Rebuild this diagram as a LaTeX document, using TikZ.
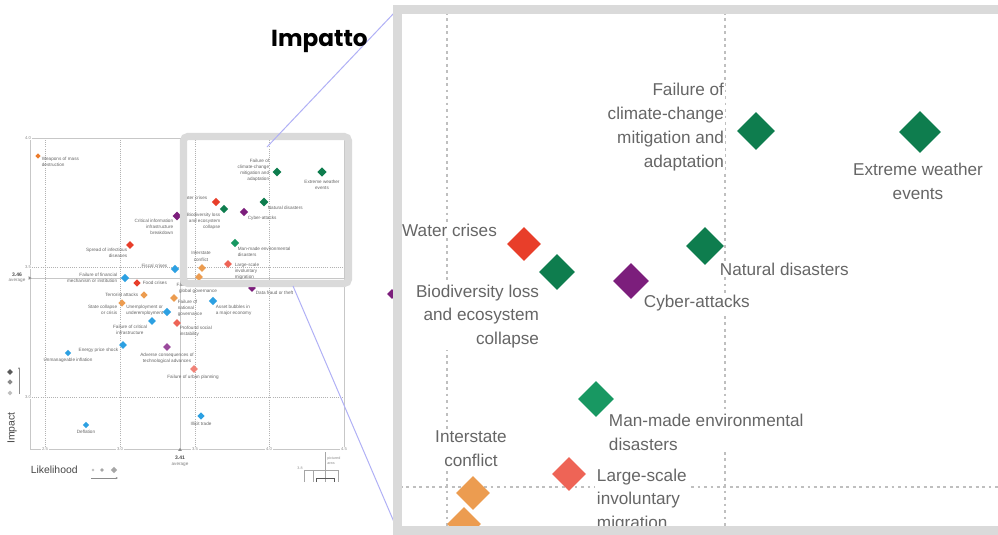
\documentclass[tikz,border=0pt]{standalone}
\usepackage{fontspec}
\setmainfont{Liberation Sans}
\newfontfamily\titlefont{Poppins}
\usetikzlibrary{shapes.geometric,arrows.meta}

\definecolor{rkgreen}{RGB}{14,125,78}
\definecolor{rkmint}{RGB}{24,152,98}
\definecolor{rkred}{RGB}{232,62,42}
\definecolor{rksalmon}{RGB}{238,100,86}
\definecolor{rkorange}{RGB}{236,156,80}
\definecolor{rkdeep}{RGB}{236,124,44}
\definecolor{rkblue}{RGB}{44,160,226}
\definecolor{rkpurple}{RGB}{124,30,124}
\definecolor{rklilac}{RGB}{154,74,156}
\definecolor{zoomline}{RGB}{176,176,246}
\definecolor{framegray}{RGB}{218,218,218}

\tikzset{
  rk/.style={diamond, inner sep=0pt, minimum size={#1*0.05cm}},
  small/.style={font=\fontsize{3.3}{4.4}\selectfont, text=black!60, inner sep=0.4pt},
  big/.style={font=\fontsize{12.2}{17}\selectfont, text=black!60, fill=white, inner sep=1.2pt},
  tick/.style={font=\fontsize{3}{3.6}\selectfont, text=black!45, fill=white, inner sep=0.6pt},
  axis/.style={draw=black!22, line width=0.4pt},
  grid/.style={draw=black!30, line width=0.4pt, dash pattern=on 0.6pt off 0.9pt},
  biggrid/.style={draw=black!25, line width=0.9pt, dash pattern=on 2pt off 2.6pt},
  legtip/.style={-{Stealth[length=1.6pt,width=1.4pt]}, draw=black!45, line width=0.3pt},
}

\begin{document}
\begin{tikzpicture}[x=0.025cm, y=-0.025cm]
  \useasboundingbox (0,0) rectangle (998,534);
  \fill[white] (0,0) rectangle (998,534);

  %%%%% small chart %%%%%
  \draw[grid] (45,138) -- (45,449);
  \draw[grid] (120,138) -- (120,449);
  \draw[grid] (195,138) -- (195,449);
  \draw[grid] (269,138) -- (269,449);
  \draw[grid] (30,267) -- (344,267);
  \draw[grid] (30,397) -- (344,397);
  \draw[axis] (180,138) -- (180,449);
  \draw[axis] (30,278) -- (344,278);
  \draw[axis] (30,138) rectangle (344,449);

  \node[tick] (y40) at (28,138) {4.0};
  \node[tick] (y35) at (28,267) {3.5};
  \node[tick] (y30) at (28,397) {3.0};
  \node[tick] (x25) at (45,449) {2.5};
  \node[tick] (x30) at (120,449) {3.0};
  \node[tick] (x35) at (195,449) {3.5};
  \node[tick] (x40) at (269,449) {4.0};
  \node[tick] (x45) at (344,449) {4.5};
  \fill[black!45] (28.5,276.2) -- (28.5,279.8) -- (31.5,278) -- cycle;
  \fill[black!45] (178.2,450.8) -- (181.8,450.8) -- (180,447.8) -- cycle;

  \node[font=\bfseries\fontsize{3.6}{4}\selectfont, text=black!70, inner sep=0pt] (avgI) at (17,275) {3.46};
  \node[font=\fontsize{3.3}{4}\selectfont, text=black!50, inner sep=0pt] (avgIt) at (17,281) {average};
  \node[font=\bfseries\fontsize{3.6}{4}\selectfont, text=black!70, inner sep=0pt] (avgL) at (180,458) {3.41};
  \node[font=\fontsize{3.3}{4}\selectfont, text=black!50, inner sep=0pt] (avgLt) at (180,465) {average};

  \node[rotate=90, font=\fontsize{7.4}{8}\selectfont, text=black!72, inner sep=0pt] (impact) at (12,428) {Impact};
  \node[anchor=west, font=\fontsize{7.4}{8}\selectfont, text=black!72, inner sep=0pt] (likely) at (30.5,470) {Likelihood};

  % size legends
  \node[rk=3, fill=black!65] (lgA) at (10,372) {};
  \node[rk=2.7, fill=black!45] (lgB) at (10,382) {};
  \node[rk=2.4, fill=black!25] (lgC) at (10,393) {};
  \draw[legtip] (19,394) -- (19,367);
  \node[rk=1.4, fill=black!25] (lgD) at (93,470) {};
  \node[rk=2.1, fill=black!35] (lgE) at (102,470) {};
  \node[rk=3.2, fill=black!35] (lgF) at (114,470) {};
  \draw[legtip] (91,478) -- (118,478);

  % pictured area
  \draw[black!35, line width=0.3pt] (304,482) -- (304,470) -- (338,470) -- (338,482);
  \draw[black!35, line width=0.3pt] (313,470) -- (313,482);
  \draw[black!35, line width=0.3pt] (325,452) -- (325,482);
  \draw[black!65, line width=0.3pt] (316,482) -- (316,478) -- (334,478) -- (334,482);
  \node[font=\fontsize{2.6}{3}\selectfont, text=black!45, inner sep=0pt] (pa38) at (300,468) {3.8};
  \node[anchor=west, align=left, font=\fontsize{2.6}{3.2}\selectfont, text=black!45, inner sep=0pt] (patx) at (327,460.5) {pictured\\area};

  % risks
  \node[rk=2.7, fill=rkdeep] (sWm) at (38,156) {};
  \node[small, anchor=west, align=left] (lWm) at (41,162) {Weapons of mass\\destruction};
  \node[rk=4.5, fill=rkpurple] (sCi) at (177,216) {};
  \node[small, anchor=east, align=right] (lCi) at (174,227) {Critical information\\infrastructure\\breakdown};
  \node[rk=4, fill=rkred] (sSp) at (130,245) {};
  \node[small, anchor=east, align=right] (lSp) at (128,252.5) {Spread of infectious\\diseases};
  \node[rk=4.3, fill=rkblue] (sFi) at (175,269) {};
  \node[small, anchor=east] (lFi) at (168,266) {Fiscal crises};
  \node[rk=4.5, fill=rkgreen] (sFc) at (277,172) {};
  \node[small, anchor=east, align=right] (lFc) at (270,170.5) {Failure of\\climate-change\\mitigation and\\adaptation};
  \node[rk=4.7, fill=rkgreen] (sEw) at (322,172) {};
  \node[small, align=center] (lEw) at (322,185) {Extreme weather\\events};
  \node[rk=4.2, fill=rkred] (sWc) at (216,202) {};
  \node[small, anchor=east] (lWc) at (208,198) {Water crises};
  \node[rk=4.3, fill=rkgreen] (sBd) at (224,209) {};
  \node[small, anchor=east, align=right] (lBd) at (221,221) {Biodiversity loss\\and ecosystem\\collapse};
  \node[rk=4.3, fill=rkpurple] (sCy) at (244,212) {};
  \node[small, anchor=west] (lCy) at (247,218) {Cyber-attacks};
  \node[rk=4.5, fill=rkgreen] (sNd) at (264,202) {};
  \node[small, anchor=west] (lNd) at (267,208) {Natural disasters};
  \node[rk=4.3, fill=rkmint] (sMm) at (235,243) {};
  \node[small, anchor=west, align=left] (lMm) at (237,252) {Man-made environmental\\disasters};
  \node[rk=4, fill=rkorange] (sIc) at (202,268) {};
  \node[small, align=center] (lIc) at (201,256.5) {Interstate\\conflict};
  \node[rk=4, fill=rksalmon] (sLs) at (228,264) {};
  \node[small, anchor=west, align=left] (lLs) at (234,271) {Large-scale\\involuntary\\migration};
  \node[rk=4, fill=rkorange] (sGg) at (199,277) {};
  \node[small, align=center] (lGg) at (198,288.5) {Failure of regional or\\global governance};
  \node[rk=4, fill=rkpurple] (sDf) at (252,288) {};
  \node[small, anchor=west] (lDf) at (255,293) {Data fraud or theft};
  \node[rk=4.3, fill=rkblue] (sFm) at (125,278) {};
  \node[small, anchor=east, align=right] (lFm) at (118,278) {Failure of financial\\mechanism or institution};
  \node[rk=3.8, fill=rkred] (sFo) at (137,283) {};
  \node[small, anchor=west] (lFo) at (142,283) {Food crises};
  \node[rk=3.8, fill=rkorange] (sTa) at (144,295) {};
  \node[small, anchor=east] (lTa) at (139,295) {Terrorist attacks};
  \node[rk=3.8, fill=rkorange] (sSc) at (122,303) {};
  \node[small, anchor=east, align=right] (lSc) at (118,310) {State collapse\\or crisis};
  \node[rk=4.2, fill=rkblue] (sUn) at (167,312) {};
  \node[small, anchor=east, align=center] (lUn) at (164,310.5) {Unemployment or\\underemployment};
  \node[rk=4, fill=rkorange] (sNg) at (174,298) {};
  \node[small, anchor=west, align=left] (lNg) at (177,308.5) {Failure of\\national\\governance};
  \node[rk=4, fill=rkblue] (sCr) at (152,321) {};
  \node[small, align=center] (lCr) at (130,329.5) {Failure of critical\\infrastructure};
  \node[rk=4, fill=rksalmon] (sPs) at (177,323) {};
  \node[small, anchor=west, align=left] (lPs) at (179,331.5) {Profound social\\instability};
  \node[rk=4, fill=rkblue] (sEp) at (123,345) {};
  \node[small, anchor=east] (lEp) at (119,350) {Energy price shock};
  \node[rk=3.3, fill=rkblue] (sUi) at (68,353) {};
  \node[small] (lUi) at (68,360) {Unmanageable inflation};
  \node[rk=4, fill=rklilac] (sAc) at (167,347) {};
  \node[small, align=center] (lAc) at (167,358) {Adverse consequences of\\technological advances};
  \node[rk=4, fill=rksalmon!80] (sUp) at (194,369) {};
  \node[small] (lUp) at (193,377) {Failure of urban planning};
  \node[rk=4.3, fill=rkblue] (sAb) at (213,301) {};
  \node[small, anchor=west, align=left] (lAb) at (215,310) {Asset bubbles in\\a major economy};
  \node[rk=3.8, fill=rkblue] (sIt) at (201,416) {};
  \node[small] (lIt) at (201,424) {Illicit trade};
  \node[rk=3.3, fill=rkblue] (sDe) at (86,425) {};
  \node[small] (lDe) at (86,432) {Deflation};

  % zoom box
  \draw[framegray, line width=5pt, rounded corners=3pt] (183.5,136.5) rectangle (348.5,283.5);

  \coordinate (zA) at (267,147);
  \coordinate (pA) at (395,12);
  \coordinate (zB) at (293,286);
  \coordinate (pB) at (394,522);
  \draw[zoomline, line width=0.7pt] (zA) -- (pA);
  \draw[zoomline, line width=0.7pt] (zB) -- (pB);

  %%%%% zoomed panel %%%%%
  \draw[biggrid] (447,12) -- (447,530);
  \draw[biggrid] (725,12) -- (725,530);
  \draw[biggrid] (400,487) -- (998,487);

  \node[rk=5, fill=rkpurple] (dCi) at (392,294) {};
  \node[rk=19, fill=rkgreen] (dFc) at (756,131) {};
  \node[rk=21, fill=rkgreen] (dEw) at (920,132) {};
  \node[rk=17, fill=rkred] (dWc) at (524,244) {};
  \node[rk=18, fill=rkgreen] (dBd) at (557,272) {};
  \node[rk=18, fill=rkpurple] (dCy) at (631,281) {};
  \node[rk=19, fill=rkgreen] (dNd) at (705,246) {};
  \node[rk=18, fill=rkmint] (dMm) at (596,399) {};
  \node[rk=17, fill=rksalmon] (dLs) at (569,474) {};
  \node[rk=17, fill=rkorange] (dIc) at (473,493) {};
  \node[rk=17, fill=rkorange] (dGg) at (464,524) {};

  \node[big, anchor=east, align=right, inner sep=0.5pt] (tFc) at (725,127) {Failure of\\climate-change\\mitigation and\\adaptation};
  \node[big, align=center] (tEw) at (918,181) {Extreme weather\\events};
  \node[big] (tWc) at (449.5,230) {Water crises};
  \node[big, anchor=east, align=right] (tBd) at (541,316.5) {Biodiversity loss\\and ecosystem\\collapse};
  \node[big, anchor=west] (tCy) at (642,303) {Cyber-attacks};
  \node[big, anchor=west] (tNd) at (718,269) {Natural disasters};
  \node[big, anchor=west, align=left] (tMm) at (607,432) {Man-made environmental\\disasters};
  \node[big, anchor=west, align=left] (tLs) at (595,500.5) {Large-scale\\involuntary\\migration};
  \node[big, align=center] (tIc) at (471,448.5) {Interstate\\conflict};

  \draw[framegray, line width=6pt] (397.5,9.5) rectangle (1010,530.5);

  \node[anchor=base, font=\titlefont\bfseries\fontsize{16.5}{18}\selectfont, inner sep=0pt] (title) at (319.5,46) {Impatto};
\end{tikzpicture}
\end{document}
